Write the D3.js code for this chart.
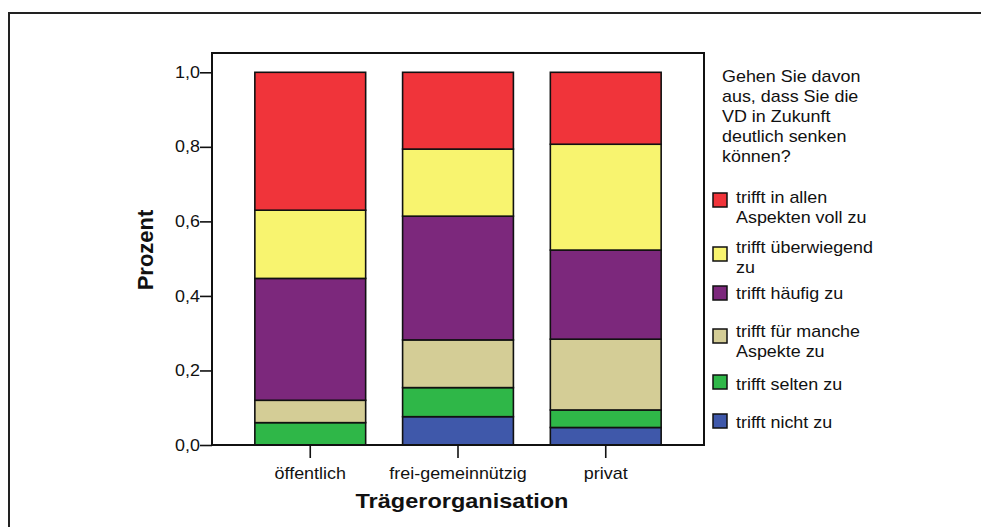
<!DOCTYPE html>
<html>
<head>
<meta charset="utf-8">
<script src="https://cdn.jsdelivr.net/npm/d3@7/dist/d3.min.js"></script>
<style>
  html, body { margin: 0; padding: 0; background: #fff; }
  svg { display: block; }
  text { font-family: "Liberation Sans", Arial, sans-serif; fill: #111; }
</style>
</head>
<body>
<svg id="chart" width="981" height="527"></svg>
<script>
// ---- data ----
const categories = ["öffentlich", "frei-gemeinnützig", "privat"];
const seriesKeys = ["nicht", "selten", "manche", "haeufig", "ueberwiegend", "voll"]; // bottom -> top
const seriesLabels = [
  ["trifft nicht zu"],
  ["trifft selten zu"],
  ["trifft für manche", "Aspekte zu"],
  ["trifft häufig zu"],
  ["trifft überwiegend", "zu"],
  ["trifft in allen", "Aspekten voll zu"]
];
const nicht        = [0.000, 0.076, 0.047];
const selten       = [0.060, 0.078, 0.047];
const manche       = [0.060, 0.128, 0.190];
const haeufig      = [0.327, 0.332, 0.239];
const ueberwiegend = [0.183, 0.180, 0.284];
const voll         = [0.370, 0.206, 0.193];
const yTicks = [0, 0.2, 0.4, 0.6, 0.8, 1.0];
const legendTitle = ["Gehen Sie davon", "aus, dass Sie die", "VD in Zukunft", "deutlich senken", "können?"];
const xTitle = "Trägerorganisation";
const yTitle = "Prozent";

// ---- style ----
const colors = {
  nicht: "#3f58aa", selten: "#2fb748", manche: "#d4cd96",
  haeufig: "#7c287c", ueberwiegend: "#f8f46f", voll: "#f0343a"
};
const SX = 1.12; // horizontal text stretch

const seriesValues = { nicht, selten, manche, haeufig, ueberwiegend, voll };
const table = categories.map((c, i) => {
  const row = { cat: c };
  seriesKeys.forEach(k => row[k] = seriesValues[k][i]);
  return row;
});

const svg = d3.select("#chart");

// outer frame
svg.append("rect").attr("x", 9).attr("y", 13).attr("width", 990).attr("height", 540)
  .attr("fill", "none").attr("stroke", "#222").attr("stroke-width", 2);

const plot = { left: 212, right: 704, top: 53, bottom: 445 };

const x = d3.scaleBand().domain(categories).range([plot.left, plot.right])
  .paddingInner(0.25).paddingOuter(0.29);
const y = d3.scaleLinear().domain([0, 1]).range([plot.bottom, 72.3]);

function stretchText(sel, sx) {
  sel.each(function () {
    const t = d3.select(this);
    const tx = +t.attr("x") || 0;
    const ty = +t.attr("y") || 0;
    t.attr("x", 0).attr("y", 0).attr("transform", `translate(${tx},${ty}) scale(${sx},1)`);
  });
}

// bars
const stacked = d3.stack().keys(seriesKeys)(table);
const g = svg.append("g");
stacked.forEach(layer => {
  g.selectAll(null).data(layer).enter().append("rect")
    .attr("x", d => x(d.data.cat))
    .attr("width", x.bandwidth())
    .attr("y", d => y(d[1]))
    .attr("height", d => Math.max(0, y(d[0]) - y(d[1])))
    .attr("fill", colors[layer.key])
    .attr("stroke", "#111")
    .attr("stroke-width", d => (d[1] - d[0]) > 0 ? 1.6 : 0);
});

// plot frame
svg.append("rect").attr("x", plot.left).attr("y", plot.top)
  .attr("width", plot.right - plot.left).attr("height", plot.bottom - plot.top)
  .attr("fill", "none").attr("stroke", "#111").attr("stroke-width", 2);

// y axis
const yAxis = svg.append("g").attr("transform", `translate(${plot.left},0)`)
  .call(d3.axisLeft(y).tickValues(yTicks).tickSize(12).tickPadding(0)
    .tickFormat(d => d3.format(".1f")(d).replace(".", ",")));
yAxis.select(".domain").remove();
yAxis.selectAll(".tick line").attr("stroke", "#111").attr("stroke-width", 1.6);
yAxis.selectAll("text").attr("font-size", 16).attr("fill", "#111")
  .attr("font-family", "Liberation Sans, Arial, sans-serif");
stretchText(yAxis.selectAll("text"), SX);

// x axis
const xAxis = svg.append("g").attr("transform", `translate(0,${plot.bottom})`)
  .call(d3.axisBottom(x).tickSize(13).tickPadding(10));
xAxis.select(".domain").remove();
xAxis.selectAll(".tick line").attr("stroke", "#111").attr("stroke-width", 1.6);
xAxis.selectAll("text").attr("font-size", 16).attr("fill", "#111")
  .attr("font-family", "Liberation Sans, Arial, sans-serif");
stretchText(xAxis.selectAll("text"), SX);

// axis titles
svg.append("text").attr("transform", `translate(${(plot.left + plot.right) / 2 + 4},508) scale(${SX},1)`)
  .attr("text-anchor", "middle").attr("font-size", 21).attr("font-weight", "bold").text(xTitle);
svg.append("text").attr("transform", `translate(153,${(plot.top + plot.bottom) / 2 + 1}) rotate(-90)`)
  .attr("text-anchor", "middle").attr("font-size", 22).attr("font-weight", "bold").text(yTitle);

// legend
const lg = svg.append("g");
legendTitle.forEach((line, i) => {
  lg.append("text").attr("transform", `translate(722,${82 + i * 20}) scale(${SX},1)`)
    .attr("font-size", 16).text(line);
});
// legend layout (top to bottom = reverse stack order)
const legendOrder = seriesKeys.slice().reverse();
const swatchTop = [193, 247, 286, 329, 375, 414];
const textBase = [203, 253, 299, 337, 390, 428];
legendOrder.forEach((k, i) => {
  lg.append("rect").attr("x", 713).attr("y", swatchTop[i]).attr("width", 14).attr("height", 14)
    .attr("fill", colors[k]).attr("stroke", "#111").attr("stroke-width", 1.5);
  const lines = seriesLabels[seriesKeys.indexOf(k)];
  lines.forEach((ln, j) => {
    lg.append("text").attr("transform", `translate(736,${textBase[i] + j * 20}) scale(${SX},1)`)
      .attr("font-size", 16).text(ln);
  });
});
</script>
</body>
</html>
